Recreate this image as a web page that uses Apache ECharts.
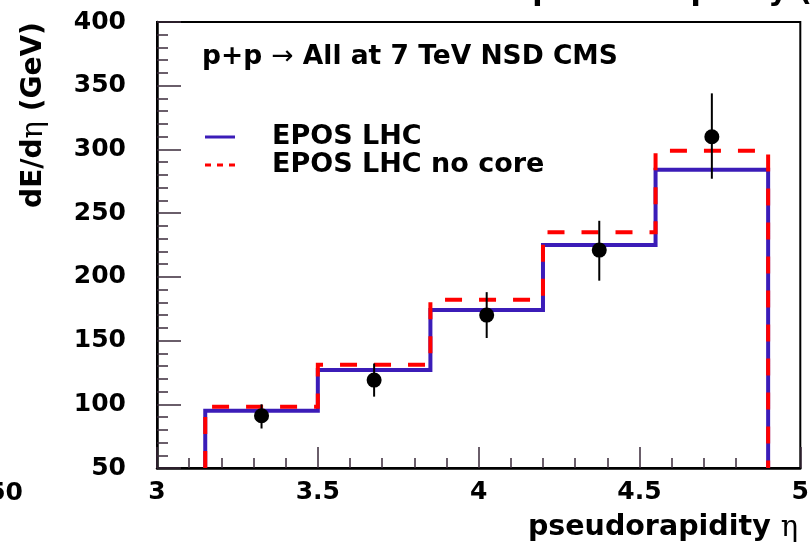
<!DOCTYPE html>
<html>
<head>
<meta charset="utf-8">
<script src="https://cdn.jsdelivr.net/npm/echarts@6/dist/echarts.min.js"></script>
<style>
  html, body { margin: 0; padding: 0; background: #fff; }
  #chart { width: 812px; height: 549px; }
</style>
</head>
<body>
<div id="chart"></div>
<script>
// ---- data ----
const binEdges = [3.15, 3.5, 3.85, 4.2, 4.55, 4.9];
const eposLHC = [95, 127, 174, 225, 284];
const eposNoCore = [98, 131, 182, 235, 299];
const cmsEta = [3.325, 3.675, 4.025, 4.375, 4.725];
const cmsValue = [91, 119, 170, 221, 310];
const cmsLow = [81, 106, 152, 197, 277];
const cmsHigh = [100, 132, 188, 244, 344];
const xRange = [3, 5];
const yRange = [50, 400];

function histPath(vals) {
  const pts = [[binEdges[0], yRange[0]]];
  vals.forEach((v, i) => {
    pts.push([binEdges[i], v]);
    pts.push([binEdges[i + 1], v]);
  });
  pts.push([binEdges[binEdges.length - 1], yRange[0]]);
  return pts;
}

const FONT = '"DejaVu Sans", sans-serif';
const BLUE = '#3b1cb8';
const RED = '#ff0000';

const chart = echarts.init(document.getElementById('chart'), null, { renderer: 'canvas' });

const option = {
  animation: false,
  backgroundColor: '#fff',
  grid: {
    left: 157, right: 11, top: 22, bottom: 81,
    show: true, borderColor: '#000', borderWidth: 2, backgroundColor: 'transparent'
  },
  xAxis: {
    type: 'value', min: xRange[0], max: xRange[1], interval: 0.5,
    axisLine: { show: true, lineStyle: { color: '#000', width: 2.5 } },
    axisTick: { show: true, inside: true, length: 21, lineStyle: { color: '#3a2a3a', width: 1.5 } },
    minorTick: { show: true, splitNumber: 5, length: 10, lineStyle: { color: '#3a2a3a', width: 1.5 } },
    splitLine: { show: false },
    axisLabel: {
      color: '#000', fontFamily: FONT, fontWeight: 'bold', fontSize: 25, margin: 12,
      formatter: v => String(v)
    }
  },
  yAxis: {
    type: 'value', min: yRange[0], max: yRange[1], interval: 50,
    axisLine: { show: true, lineStyle: { color: '#000', width: 2.5 } },
    axisTick: { show: true, inside: true, length: 24, lineStyle: { color: '#3a2a3a', width: 1.5 } },
    minorTick: { show: true, splitNumber: 5, length: 11, lineStyle: { color: '#3a2a3a', width: 1.5 } },
    splitLine: { show: false },
    axisLabel: {
      color: '#000', fontFamily: FONT, fontWeight: 'bold', fontSize: 25, margin: 31
    }
  },
  series: [
    {
      name: 'EPOS LHC', type: 'line', data: histPath(eposLHC),
      symbol: 'none', z: 3,
      lineStyle: { color: BLUE, width: 4, join: 'miter', cap: 'butt' }
    },
    {
      name: 'EPOS LHC no core', type: 'line', data: histPath(eposNoCore),
      symbol: 'none', z: 4,
      lineStyle: { color: RED, width: 4, type: [17, 17], join: 'miter', cap: 'butt' }
    },
    {
      name: 'CMS errors', type: 'custom', z: 5,
      data: cmsEta.map((x, i) => [x, cmsLow[i], cmsHigh[i]]),
      renderItem: function (params, api) {
        const p1 = api.coord([api.value(0), api.value(1)]);
        const p2 = api.coord([api.value(0), api.value(2)]);
        return {
          type: 'line',
          shape: { x1: p1[0], y1: p1[1], x2: p2[0], y2: p2[1] },
          style: { stroke: '#000', lineWidth: 2 }
        };
      }
    },
    {
      name: 'CMS', type: 'scatter', z: 6,
      data: cmsEta.map((x, i) => [x, cmsValue[i]]),
      symbol: 'circle', symbolSize: 15,
      itemStyle: { color: '#000', opacity: 1 }
    }
  ],
  graphic: [
    // y-axis title
    {
      type: 'text', x: 34, y: 115, rotation: Math.PI / 2,
      style: {
        text: '{b|dE/d}{s|η}{b| (GeV)}',
        align: 'center', verticalAlign: 'middle',
        rich: {
          b: { fontFamily: FONT, fontWeight: 'bold', fontSize: 28, fill: '#000' },
          s: { fontFamily: '"DejaVu Serif", serif', fontSize: 29, fill: '#000' }
        }
      }
    },
    // x-axis title
    {
      type: 'text', x: 798, y: 528,
      style: {
        text: '{b|pseudorapidity }{s|η}',
        align: 'right', verticalAlign: 'middle',
        rich: {
          b: { fontFamily: FONT, fontWeight: 'bold', fontSize: 28.5, fill: '#000' },
          s: { fontFamily: '"DejaVu Serif", serif', fontSize: 29, fill: '#000' }
        }
      }
    },
    // cut title at top
    {
      type: 'text', x: 812, y: 7,
      style: {
        text: '{b|pseudorapidity (}',
        align: 'right', verticalAlign: 'bottom',
        rich: { b: { fontFamily: FONT, fontWeight: 'bold', fontSize: 30, fill: '#000' } }
      }
    },
    // stray label at left
    {
      type: 'text', x: 23, y: 493,
      style: {
        text: '50', align: 'right', verticalAlign: 'middle',
        fontFamily: FONT, fontWeight: 'bold', fontSize: 25, fill: '#000'
      }
    },
    // annotation
    {
      type: 'text', x: 202, y: 57,
      style: {
        text: '{b|p+p }{a|→}{b| All at 7 TeV NSD CMS}',
        align: 'left', verticalAlign: 'middle',
        rich: {
          b: { fontFamily: FONT, fontWeight: 'bold', fontSize: 26.5, fill: '#000' },
          a: { fontFamily: '"DejaVu Sans", sans-serif', fontSize: 26.5, fill: '#000' }
        }
      }
    },
    // legend
    {
      type: 'line', shape: { x1: 205, y1: 137, x2: 235, y2: 137 },
      style: { stroke: BLUE, lineWidth: 3 }
    },
    {
      type: 'text', x: 272, y: 137,
      style: {
        text: 'EPOS LHC', align: 'left', verticalAlign: 'middle',
        fontFamily: FONT, fontWeight: 'bold', fontSize: 27, fill: '#000'
      }
    },
    {
      type: 'line', shape: { x1: 205, y1: 165, x2: 235, y2: 165 },
      style: { stroke: RED, lineWidth: 3, lineDash: [6, 6] }
    },
    {
      type: 'text', x: 272, y: 165,
      style: {
        text: 'EPOS LHC no core', align: 'left', verticalAlign: 'middle',
        fontFamily: FONT, fontWeight: 'bold', fontSize: 27, fill: '#000'
      }
    }
  ]
};
chart.setOption(option);
</script>
</body>
</html>
